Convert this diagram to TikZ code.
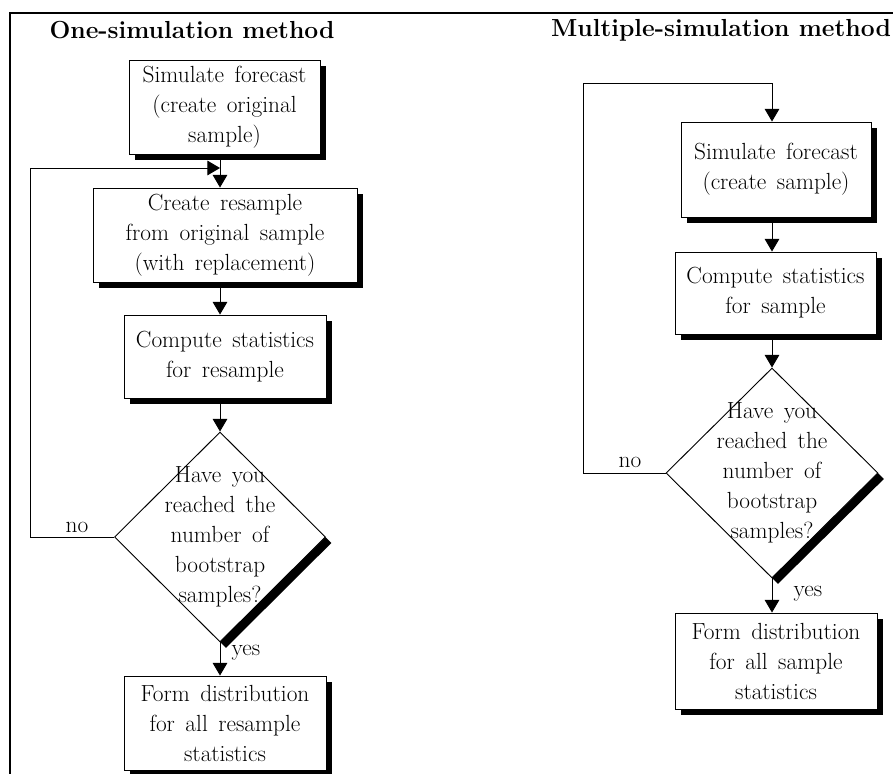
\documentclass[tikz,border=0pt]{standalone}
\usepackage{amsmath}
\usetikzlibrary{arrows.meta,shapes.geometric,shadows}

\newcommand{\flowfont}{\fontsize{17.5}{22.5}\selectfont\spaceskip=0.45em\relax}

\begin{document}
\begin{tikzpicture}[x=0.75pt,y=-0.75pt,
  font=\flowfont,line width=0.7pt,
  shade/.style={drop shadow={shadow xshift=4.5pt,shadow yshift=-4.5pt,opacity=1,fill=black}},
  box/.style={draw,fill=white,align=center,inner sep=0pt,shade},
  decision/.style={draw,fill=white,diamond,inner sep=0pt,shade},
  flow/.style={-{Triangle[width=11pt,length=9.5pt]}},
  title/.style={font=\fontsize{18.5}{22}\selectfont\bfseries}]

\useasboundingbox (0,0) rectangle (893,774);
\draw[line width=1.5pt] (10,780) -- (10,13) -- (900,13);

\node[title] (title1) at (192,30) {One-simulation method};
\node[title] (title2) at (721,30) {Multiple-simulation method};

\node[box,minimum width=143.25pt,minimum height=70.5pt] (sim1) at (224.5,107)
  {Simulate forecast\\(create original\\sample)};
\node[box,minimum width=198pt,minimum height=70.5pt] (res1) at (225,235)
  {Create resample\\from original sample\\(with replacement)};
\node[box,minimum width=151.5pt,minimum height=62.25pt] (stat1) at (225,356.5)
  {Compute statistics\\for resample};
\node[decision,minimum width=158.25pt,minimum height=157.5pt] (dec1) at (220,537) {};
\node[align=center] (ask1) at (dec1) {Have you\\reached the\\number of\\bootstrap\\samples?};
\node[box,minimum width=151.5pt,minimum height=70.5pt] (dist1) at (225,723)
  {Form distribution\\for all resample\\statistics};

\node[box,minimum width=142.5pt,minimum height=71.25pt] (sim2) at (776,169.5)
  {Simulate forecast\\(create sample)};
\node[box,minimum width=150.75pt,minimum height=61.5pt] (stat2) at (775.5,293)
  {Compute statistics\\for sample};
\node[decision,minimum width=159pt,minimum height=157.5pt] (dec2) at (772,473) {};
\node[align=center] (ask2) at (dec2) {Have you\\reached the\\number of\\bootstrap\\samples?};
\node[box,minimum width=151.5pt,minimum height=72pt] (dist2) at (776,661)
  {Form distribution\\for all sample\\statistics};

\coordinate (back1) at (30,168);
\coordinate (back2) at (583,83);

\draw[flow] (sim1.south -| dec1.north) -- (res1.north -| dec1.north);
\draw[flow] (res1.south -| dec1.north) -- (stat1.north -| dec1.north);
\draw[flow] (stat1.south -| dec1.north) -- (dec1.north);
\draw[flow] (dec1.south) -- (dist1.north -| dec1.south);
\draw[flow] (dec1.west) -- (dec1.west -| back1) -- (back1) -- (back1 -| dec1.north);

\draw[flow] (sim2.south -| dec2.north) -- (stat2.north -| dec2.north);
\draw[flow] (stat2.south -| dec2.north) -- (dec2.north);
\draw[flow] (dec2.south) -- (dist2.north -| dec2.south);
\draw[flow] (dec2.west) -- (dec2.west -| back2) -- (back2) -- (back2 -| dec2.north)
  -- (sim2.north -| dec2.north);

\node (no1) at (77,527) {no};
\node (yes1) at (246,653) {yes};
\node (no2) at (630,462) {no};
\node (yes2) at (808,594) {yes};
\end{tikzpicture}
\end{document}
